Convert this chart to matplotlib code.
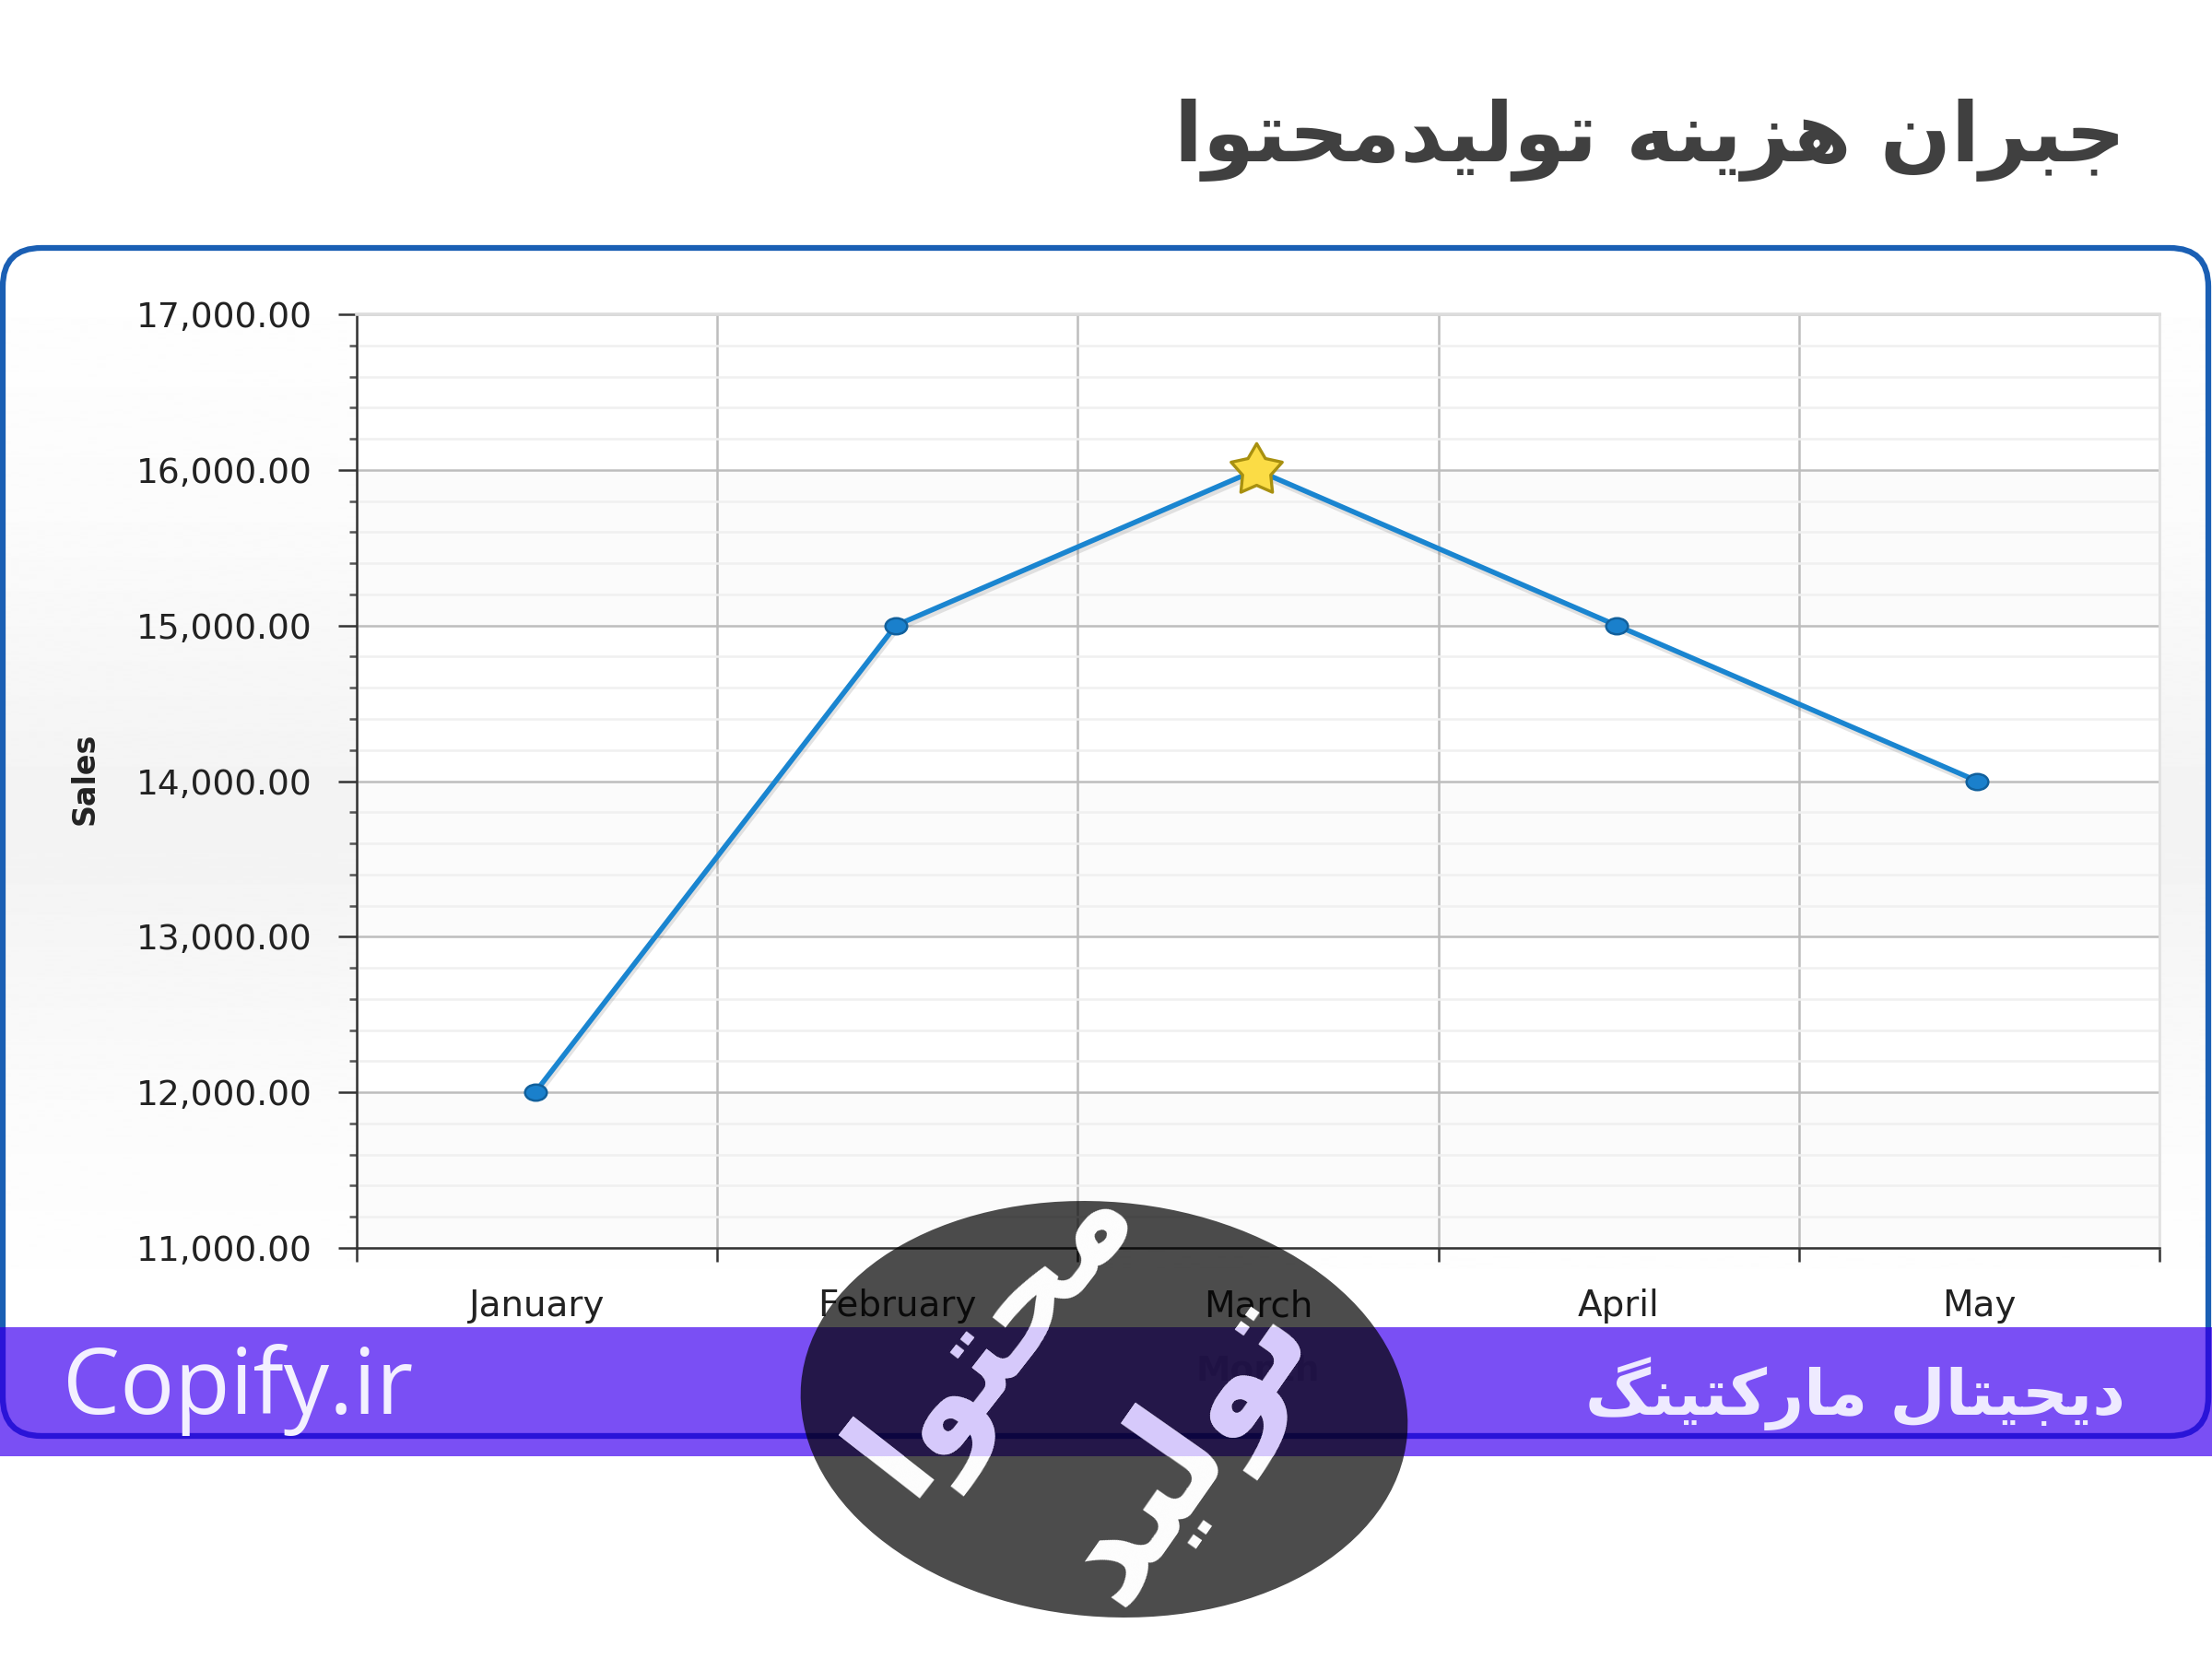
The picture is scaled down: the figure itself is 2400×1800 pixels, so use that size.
import numpy as np
import matplotlib
matplotlib.use("Agg")
import matplotlib.pyplot as plt
import matplotlib.patheffects as pe
from matplotlib.patches import Ellipse, FancyBboxPatch, Rectangle
from matplotlib.path import Path
from matplotlib.transforms import Affine2D

# chart data
months = ["January", "February", "March", "April", "May"]
sales = [12000, 15000, 16000, 15000, 14000]
y_ticks = [11000, 12000, 13000, 14000, 15000, 16000, 17000]
shaded_bands = [(15000, 16000), (13000, 14000), (11000, 12000)]

# page texts
title_text = "جبران هزینه تولیدمحتوا"
site_text = "Copify.ir"
band_text = "دیجیتال مارکتینگ"
logo_words = ["تولید", "محتوا"]

W, H = 2400, 1800

# isolated, final, initial, medial
FORMS = {
    "ا": (0xFE8D, 0xFE8E), "ب": (0xFE8F, 0xFE90, 0xFE91, 0xFE92),
    "ت": (0xFE95, 0xFE96, 0xFE97, 0xFE98), "ج": (0xFE9D, 0xFE9E, 0xFE9F, 0xFEA0),
    "ح": (0xFEA1, 0xFEA2, 0xFEA3, 0xFEA4), "د": (0xFEA9, 0xFEAA),
    "ر": (0xFEAD, 0xFEAE), "ز": (0xFEAF, 0xFEB0),
    "ل": (0xFEDD, 0xFEDE, 0xFEDF, 0xFEE0), "م": (0xFEE1, 0xFEE2, 0xFEE3, 0xFEE4),
    "ن": (0xFEE5, 0xFEE6, 0xFEE7, 0xFEE8), "ه": (0xFEE9, 0xFEEA, 0xFEEB, 0xFEEC),
    "و": (0xFEED, 0xFEEE), "ی": (0xFBFC, 0xFBFD, 0xFBFE, 0xFBFF),
    "ک": (0xFB8E, 0xFB8F, 0xFB90, 0xFB91), "گ": (0xFB92, 0xFB93, 0xFB94, 0xFB95),
}


def shape_persian(text):
    # matplotlib has no RTL shaping, so pick joined forms and reverse by hand
    out = []
    for i, ch in enumerate(text):
        if ch not in FORMS:
            out.append(ch)
            continue
        prev = text[i - 1] if i > 0 else " "
        nxt = text[i + 1] if i < len(text) - 1 else " "
        joins_prev = prev in FORMS and len(FORMS[prev]) == 4
        joins_next = nxt in FORMS and len(FORMS[ch]) == 4
        if joins_prev and joins_next:
            code = FORMS[ch][3]
        elif joins_prev:
            code = FORMS[ch][1]
        elif joins_next:
            code = FORMS[ch][2]
        else:
            code = FORMS[ch][0]
        out.append(chr(code))
    return "".join(reversed(out))


fig = plt.figure(figsize=(24, 18), dpi=100, facecolor="white")


def pixel_axes(zorder):
    a = fig.add_axes([0, 0, 1, 1], zorder=zorder)
    a.set_xlim(0, W)
    a.set_ylim(H, 0)
    a.axis("off")
    a.patch.set_alpha(0)
    return a


# panel behind the plot
back = pixel_axes(0)
panel = FancyBboxPatch((3, 269), 2393, 1289, boxstyle="round,pad=0,rounding_size=42",
                       facecolor="none", edgecolor="#1a5fb4", linewidth=4.5, zorder=3)
back.add_patch(panel)
stops_y = [269, 560, 900, 1200, 1440]
stops_v = [1.0, 0.985, 0.95, 0.985, 1.0]
grad = np.interp(np.arange(269, 1560), stops_y, stops_v).reshape(-1, 1)
im = back.imshow(grad, extent=(3, 2396, 1558, 269), cmap="gray", vmin=0, vmax=1,
                 aspect="auto", zorder=1)
im.set_clip_path(panel)
back.set_xlim(0, W)
back.set_ylim(H, 0)

# the chart itself
left, right, top, bottom = 387, 2343, 341, 1354
ax = fig.add_axes([left / W, 1 - bottom / H, (right - left) / W, (bottom - top) / H], zorder=1)
ax.set_facecolor("white")
ax.set_xlim(0, len(months))
ax.set_ylim(y_ticks[0], y_ticks[-1])
for lo, hi in shaded_bands:
    ax.axhspan(lo, hi, color="#fbfbfb", lw=0, zorder=0)

ax.set_yticks(y_ticks)
ax.set_yticklabels([f"{v:,.2f}" for v in y_ticks], fontsize=27, color="#222222")
ax.set_yticks(np.arange(y_ticks[0], y_ticks[-1], 200), minor=True)
ax.set_xticks(np.arange(len(months) + 1))
ax.set_xticklabels([""] * (len(months) + 1))
ax.set_xticks(np.arange(len(months)) + 0.5, minor=True)
ax.set_xticklabels(months, minor=True, fontsize=28, color="#222222")
ax.tick_params(axis="y", which="major", length=14.5, width=1.8, color="#333333", pad=20)
ax.tick_params(axis="y", which="minor", length=6, width=1.8, color="#555555")
ax.tick_params(axis="x", which="major", length=11, width=1.8, color="#333333")
ax.tick_params(axis="x", which="minor", length=0, pad=32)
ax.grid(axis="y", which="major", color="#bdbdbd", lw=1.8, zorder=1)
ax.grid(axis="y", which="minor", color="#f0f0f0", lw=1.8, zorder=1)
ax.grid(axis="x", which="major", color="#bdbdbd", lw=1.8, zorder=1)
ax.set_axisbelow(True)
for side in ["left", "bottom"]:
    ax.spines[side].set_color("#333333")
    ax.spines[side].set_linewidth(1.8)
ax.spines["top"].set_color("#dcdcdc")
ax.spines["top"].set_linewidth(2.6)
ax.spines["right"].set_color("#e2e2e2")
ax.spines["right"].set_linewidth(2)
ax.set_ylabel("Sales", fontsize=24, fontweight="bold", color="#222222")
ax.yaxis.set_label_coords((109 - left) / (right - left), 0.503)
ax.set_xlabel("Month", fontsize=27, fontweight="bold", color="#222222")
ax.xaxis.set_label_coords(0.5, -(1487 - bottom) / (bottom - top), ax.transAxes)
ax.xaxis.label.set_va("center")

x_pos = np.arange(len(months)) + 0.495
ax.plot(x_pos, sales, color="#1a85d0", lw=4, zorder=3, solid_joinstyle="round",
        path_effects=[pe.SimpleLineShadow(offset=(1, -3), alpha=0.16, shadow_color="#555555"), pe.Normal()])
dot = Path.unit_circle().transformed(Affine2D().scale(1.35, 1.0))
star = Path.unit_regular_star(5, innerCircle=0.55)
peak = int(np.argmax(sales))
others = [i for i in range(len(sales)) if i != peak]
ax.plot(x_pos[others], [sales[i] for i in others], ls="none", marker=dot, ms=17,
        mfc="#1a80cc", mec="#11609c", mew=1.8, zorder=4)
ax.plot(x_pos[peak], sales[peak], ls="none", marker=star, ms=42, mfc="#fbdc45",
        mec="#a8900f", mew=2.4, zorder=5)

# page overlay: title, purple strip, logo
top_ax = pixel_axes(2)
top_ax.text(2306, 152, shape_persian(title_text), ha="right", va="center", fontsize=65,
            fontweight="bold", color="#404040", family="DejaVu Sans")

strip_box = (0, 1440), W, 140
strip = Rectangle(*strip_box, facecolor="#7041f4", alpha=0.93, edgecolor="none", zorder=1)
top_ax.add_patch(strip)
edge = FancyBboxPatch((3, 269), 2393, 1289, boxstyle="round,pad=0,rounding_size=42",
                      facecolor="none", edgecolor="#2a14d8", linewidth=4.5, zorder=2)
top_ax.add_patch(edge)
edge.set_clip_path(Rectangle(*strip_box, transform=top_ax.transData))
top_ax.text(68, 1508, site_text, ha="left", va="center", fontsize=71, color="#f3f0ff", family="Open Sans")
top_ax.text(2306, 1512, shape_persian(band_text), ha="right", va="center", fontsize=50,
            fontweight="bold", color="#eeeaff", family="DejaVu Sans")

top_ax.add_patch(Ellipse((1198, 1529), 660, 450, angle=5, facecolor="black", alpha=0.7,
                         edgecolor="none", zorder=3))
logo_spots = [(1285, 1570, 55, 112), (1080, 1445, 52, 106)]
for word, (lx, ly, rot, size) in zip(logo_words, logo_spots):
    shaped = shape_persian(word)
    top_ax.text(lx, ly, shaped, ha="center", va="center", rotation=rot, fontsize=size,
                fontweight="bold", color="white", family="DejaVu Sans", zorder=4)
    # the strip tints the logo where they overlap
    tint = top_ax.text(lx, ly, shaped, ha="center", va="center", rotation=rot, fontsize=size,
                       fontweight="bold", color="#d6c9fb", family="DejaVu Sans", zorder=5,
                       clip_on=True)
    tint.set_clip_path(Rectangle(*strip_box, transform=top_ax.transData))

fig.savefig("out.png", dpi=100)
